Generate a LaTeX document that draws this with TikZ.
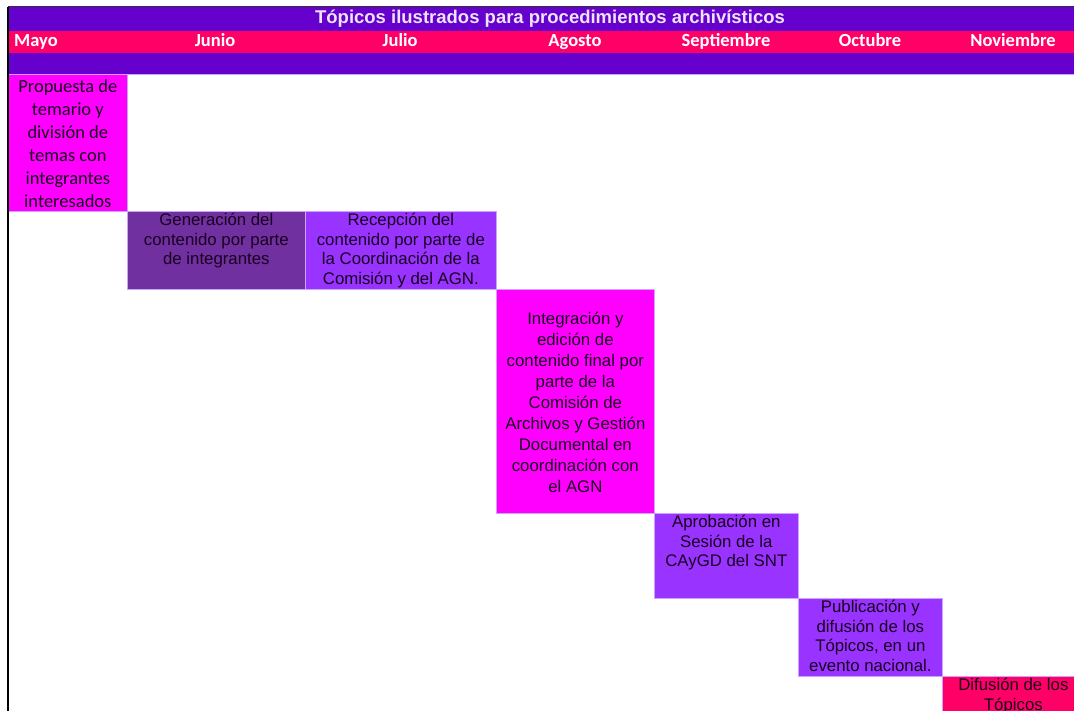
\documentclass[tikz,border=0pt]{standalone}
\usepackage{fontspec}
\setmainfont{Liberation Sans}
\newfontfamily\carlito{Carlito}
\usetikzlibrary{positioning}

\definecolor{morado}{HTML}{6600CC}
\definecolor{rosa}{HTML}{FF0066}
\definecolor{fucsia}{HTML}{FF00FF}
\definecolor{uva}{HTML}{7030A0}
\definecolor{violeta}{HTML}{9933FF}
\definecolor{lila}{HTML}{CCA3FF}
\definecolor{titulo}{HTML}{EDE3FA}
\definecolor{tinta}{HTML}{1A0020}

% celda de texto: [posicion vertical]{ancho}{alto}{texto}
\newcommand{\celda}[4][t]{\parbox[c][#3pt][#1]{#2pt}{\centering\vspace*{2pt}#4}}

\begin{document}
\begin{tikzpicture}[x=1pt, y=-1pt,
    mes/.style={text=white, inner sep=0pt, anchor=base, font=\carlito\bfseries\fontsize{18.5}{20}\selectfont},
    tarea/.style={fill=#1, draw=lila, line width=0.7pt, inner sep=0pt, anchor=north west,
                  text=tinta, font=\fontsize{16.8}{19.6}\selectfont}
  ]
\useasboundingbox (0,0) rectangle (1074,711);
\clip (0,0) rectangle (1074,711);

% cabecera
\fill[morado] (8,7) rectangle (1074,31);
\fill[rosa] (8,31) rectangle (1074,53);
\fill[morado] (8,53) rectangle (1074,74);
\draw[lila, line width=0.7pt] (8,74) -- (1074,74);
\draw[black!80, line width=1pt] (8,7) -- (1074,7);

\node[text=titulo, inner sep=0pt, font=\bfseries\fontsize{18.5}{20}\selectfont] (titulo) at (550,19) {Tópicos ilustrados para procedimientos archivísticos};

\node[mes, anchor=base west] (mayo) at (14,47) {Mayo};
\node[mes] (junio) at (215,47) {Junio};
\node[mes] (julio) at (400,47) {Julio};
\node[mes] (agosto) at (575,47) {Agosto};
\node[mes] (septiembre) at (726,47) {Septiembre};
\node[mes] (octubre) at (870,47) {Octubre};
\node[mes] (noviembre) at (1013,47) {Noviembre};

% actividades
\node[tarea=fucsia, font=\carlito\fontsize{18.5}{23}\selectfont] (propuesta) at (8,74)
  {\celda[c]{119}{137}{Propuesta de\\ temario y\\ división de\\ temas con\\ integrantes\\ interesados}};
\node[tarea=uva] (generacion) at (127,211)
  {\celda{178}{78}{Generación del\\ contenido por parte\\ de integrantes}};
\node[tarea=violeta] (recepcion) at (305,211)
  {\celda{191}{78}{Recepción del\\ contenido por parte de\\ la Coordinación de la\\ Comisión y del AGN.}};
\node[tarea=fucsia, font=\fontsize{16.8}{21}\selectfont] (integracion) at (496,289)
  {\celda[c]{158}{224}{Integración y\\ edición de\\ contenido final por\\ parte de la\\ Comisión de\\ Archivos y Gestión\\ Documental en\\ coordinación con\\ el AGN}};
\node[tarea=violeta] (aprobacion) at (654,513)
  {\celda{144}{85}{Aprobación en\\ Sesión de la\\ CAyGD del SNT}};
\node[tarea=violeta] (publicacion) at (798,598)
  {\celda{144}{78}{Publicación y\\ difusión de los\\ Tópicos, en un\\ evento nacional.}};
\node[tarea=rosa] (difusion) at (942,676)
  {\celda{142}{60}{Difusión de los\\ Tópicos}};

\draw[black, line width=1.2pt] (8,7) -- (8,711);
\end{tikzpicture}
\end{document}
